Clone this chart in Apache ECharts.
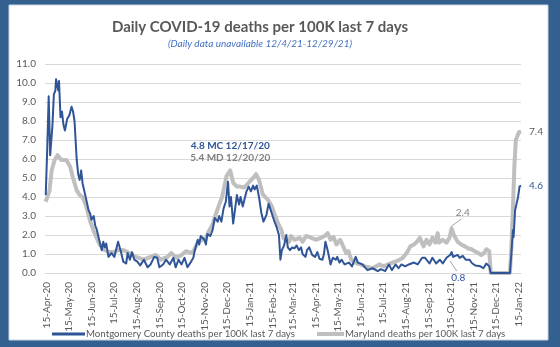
<!DOCTYPE html>
<html><head><meta charset="utf-8">
<script src="https://cdn.jsdelivr.net/npm/echarts@6/dist/echarts.min.js"></script>
<style>html,body{margin:0;padding:0;background:#34608F}#c{width:560px;height:347px}</style>
</head><body><div id="c"></div>
<script>
// ---- data ----
const startDate = '2020-04-13';
const endDate = '2022-01-18';
const monthNames = ['Jan','Feb','Mar','Apr','May','Jun','Jul','Aug','Sep','Oct','Nov','Dec'];
const xTickDates = ['2020-04-15','2020-05-15','2020-06-15','2020-07-15','2020-08-15','2020-09-15','2020-10-15','2020-11-15','2020-12-15','2021-01-15','2021-02-15','2021-03-15','2021-04-15','2021-05-15','2021-06-15','2021-07-15','2021-08-15','2021-09-15','2021-10-15','2021-11-15','2021-12-15','2022-01-15'];
const seriesNames = ['Montgomery County deaths per 100K last 7 days', 'Maryland deaths per 100K last 7 days'];

const mcDates = ['2020-04-14','2020-04-16','2020-04-18','2020-04-20','2020-04-21','2020-04-23','2020-04-25','2020-04-27','2020-04-28','2020-04-30','2020-05-01','2020-05-02','2020-05-04','2020-05-06','2020-05-08','2020-05-10','2020-05-13','2020-05-16','2020-05-19','2020-05-21','2020-05-23','2020-05-26','2020-05-28','2020-05-30','2020-06-01','2020-06-03','2020-06-08','2020-06-11','2020-06-13','2020-06-15','2020-06-18','2020-06-20','2020-06-22','2020-06-26','2020-06-29','2020-07-01','2020-07-03','2020-07-05','2020-07-08','2020-07-12','2020-07-16','2020-07-21','2020-07-25','2020-07-28','2020-08-01','2020-08-03','2020-08-06','2020-08-09','2020-08-12','2020-08-16','2020-08-20','2020-08-25','2020-08-30','2020-09-03','2020-09-08','2020-09-12','2020-09-15','2020-09-20','2020-09-24','2020-09-29','2020-10-04','2020-10-07','2020-10-11','2020-10-15','2020-10-19','2020-10-23','2020-10-28','2020-10-31','2020-11-02','2020-11-06','2020-11-08','2020-11-10','2020-11-15','2020-11-17','2020-11-19','2020-11-23','2020-11-26','2020-11-29','2020-12-03','2020-12-05','2020-12-08','2020-12-11','2020-12-14','2020-12-17','2020-12-19','2020-12-21','2020-12-24','2020-12-29','2021-01-01','2021-01-03','2021-01-06','2021-01-11','2021-01-14','2021-01-17','2021-01-20','2021-01-22','2021-01-25','2021-01-28','2021-01-31','2021-02-03','2021-02-07','2021-02-10','2021-02-12','2021-02-15','2021-02-18','2021-02-21','2021-02-24','2021-02-26','2021-02-28','2021-03-03','2021-03-06','2021-03-08','2021-03-11','2021-03-14','2021-03-17','2021-03-20','2021-03-23','2021-03-26','2021-03-28','2021-04-01','2021-04-03','2021-04-06','2021-04-10','2021-04-14','2021-04-17','2021-04-20','2021-04-24','2021-04-26','2021-04-28','2021-05-01','2021-05-05','2021-05-08','2021-05-12','2021-05-14','2021-05-17','2021-05-20','2021-05-24','2021-05-30','2021-06-03','2021-06-08','2021-06-11','2021-06-17','2021-06-24','2021-07-01','2021-07-08','2021-07-12','2021-07-18','2021-07-23','2021-07-27','2021-08-01','2021-08-05','2021-08-09','2021-08-14','2021-08-19','2021-08-26','2021-08-31','2021-09-06','2021-09-10','2021-09-12','2021-09-16','2021-09-20','2021-09-25','2021-09-30','2021-10-04','2021-10-09','2021-10-14','2021-10-16','2021-10-18','2021-10-24','2021-10-27','2021-10-31','2021-11-04','2021-11-09','2021-11-13','2021-11-17','2021-11-24','2021-11-28','2021-12-02','2021-12-06','2021-12-08','2022-01-03','2022-01-05','2022-01-07','2022-01-08','2022-01-10','2022-01-12','2022-01-14','2022-01-16','2022-01-18'];
const mcValues = [4.1,6.5,9.3,6.2,6.1,7.7,9.4,9.6,10.2,10.2,9.6,10.1,8.2,8.5,7.8,7.5,8.1,8.3,8.75,8.5,8.0,5.95,5.2,4.9,5.4,4.7,3.85,3.3,3.15,2.8,3.0,2.5,2.3,1.65,1.2,1.65,1.35,1.55,0.85,1.05,0.85,1.65,1.1,0.6,0.5,1.05,0.7,1.1,0.7,0.6,0.4,0.7,0.3,0.45,0.85,0.8,0.3,0.45,0.7,0.45,0.8,0.3,0.7,0.45,0.8,0.3,0.6,0.8,1.2,1.75,1.5,1.95,1.75,1.5,2.05,1.95,2.25,2.9,2.7,3.0,2.7,3.4,3.75,4.8,3.5,4.0,2.6,4.1,3.6,4.0,3.5,4.3,4.55,4.3,4.6,4.4,4.6,4.0,3.2,2.7,3.05,3.65,3.55,3.05,2.7,2.4,2.0,0.7,1.2,1.45,2.0,1.35,1.2,1.35,1.3,1.45,1.2,1.35,1.0,0.85,1.2,1.35,0.95,0.85,1.1,0.75,0.7,1.0,1.65,1.2,0.45,0.8,0.7,0.85,0.55,0.7,0.45,0.55,0.35,0.85,0.55,0.45,0.15,0.25,0.1,0.2,0.1,0.45,0.15,0.45,0.25,0.45,0.35,0.45,0.55,0.45,0.8,0.8,0.7,0.5,0.8,0.5,0.7,0.5,0.8,0.95,1.1,0.85,0.95,0.8,0.9,0.7,0.7,0.5,0.4,0.35,0.25,0.5,0.35,0,0,1.05,2.25,1.9,3.3,3.65,4.0,4.55,4.6];

const mdDates = ['2020-04-14','2020-04-17','2020-04-19','2020-04-22','2020-04-26','2020-04-30','2020-05-05','2020-05-12','2020-05-17','2020-05-21','2020-05-26','2020-05-30','2020-06-03','2020-06-08','2020-06-13','2020-06-18','2020-06-22','2020-06-26','2020-07-01','2020-07-08','2020-07-15','2020-07-21','2020-07-28','2020-08-03','2020-08-09','2020-08-14','2020-08-25','2020-09-03','2020-09-10','2020-09-17','2020-09-26','2020-10-01','2020-10-08','2020-10-15','2020-10-21','2020-10-28','2020-11-01','2020-11-06','2020-11-12','2020-11-17','2020-11-21','2020-11-26','2020-11-30','2020-12-05','2020-12-09','2020-12-12','2020-12-15','2020-12-20','2020-12-24','2020-12-29','2021-01-01','2021-01-08','2021-01-15','2021-01-20','2021-01-24','2021-01-28','2021-02-02','2021-02-09','2021-02-14','2021-02-18','2021-02-23','2021-02-27','2021-03-02','2021-03-06','2021-03-10','2021-03-12','2021-03-17','2021-03-24','2021-03-28','2021-04-02','2021-04-09','2021-04-15','2021-04-22','2021-04-27','2021-05-01','2021-05-05','2021-05-09','2021-05-13','2021-05-18','2021-05-22','2021-05-26','2021-05-29','2021-06-02','2021-06-07','2021-06-14','2021-06-21','2021-07-01','2021-07-10','2021-07-16','2021-07-22','2021-07-28','2021-08-04','2021-08-11','2021-08-17','2021-08-21','2021-08-26','2021-08-30','2021-09-03','2021-09-08','2021-09-12','2021-09-16','2021-09-20','2021-09-24','2021-09-27','2021-09-29','2021-10-04','2021-10-09','2021-10-13','2021-10-16','2021-10-19','2021-10-24','2021-10-29','2021-11-03','2021-11-07','2021-11-12','2021-11-16','2021-11-21','2021-11-25','2021-11-29','2021-12-02','2021-12-06','2021-12-08','2022-01-03','2022-01-05','2022-01-07','2022-01-09','2022-01-11','2022-01-15','2022-01-18'];
const mdValues = [3.75,4.1,4.3,5.4,5.95,6.2,5.95,5.95,5.6,5.0,4.35,4.1,4.0,3.5,2.75,2.2,1.85,1.5,1.25,1.1,1.1,1.2,1.2,1.1,0.95,0.85,0.7,0.85,0.95,0.7,0.85,1.05,0.8,0.95,1.15,1.05,1.2,1.6,1.75,1.85,2.2,2.55,3.05,3.6,4.0,4.55,5.1,5.4,4.75,4.55,4.55,4.5,4.8,5.0,5.2,4.9,4.15,3.85,3.55,3.1,2.6,2.3,1.85,1.7,1.65,1.95,1.75,1.85,1.65,1.95,1.85,1.75,1.85,1.95,2.1,1.75,1.9,1.5,1.75,1.4,1.05,1.15,0.7,0.55,0.45,0.35,0.25,0.45,0.35,0.45,0.55,0.65,0.8,1.1,1.4,1.5,1.65,1.85,1.4,1.75,1.5,1.85,1.6,2.1,1.6,1.75,1.6,1.85,2.35,2.0,1.65,1.5,1.4,1.3,1.25,1.15,1.05,0.95,1.05,1.25,1.15,0,0,1.4,3.3,5.6,7.0,7.4,7.45];

const yTicks = {min: 0, max: 11, interval: 1};
const endLabelTexts = ['4.6', '7.4'];
const notes = {
  mcPeak: '4.8 MC 12/17/20',
  mdPeak: '5.4 MD 12/20/20',
  mdOct: '2.4',
  mcOct: '0.8'
};
const titleText = 'Daily COVID-19 deaths per 100K last 7 days';
const subText = '(Daily data unavailable 12/4/21-12/29/21)';

// ---- helpers: x positions are day numbers counted from startDate ----
function utc(s) { const p = s.split('-').map(Number); return Date.UTC(p[0], p[1] - 1, p[2]); }
const T0 = utc(startDate);
function day(s) { return Math.round((utc(s) - T0) / 86400000); }
function fmtDay(n) {
  const d = new Date(T0 + Math.round(n) * 86400000);
  return d.getUTCDate() + '-' + monthNames[d.getUTCMonth()] + '-' + String(d.getUTCFullYear()).slice(2);
}
const pairs = (ds, vs) => ds.map((d, i) => [day(d), vs[i]]);

const FONT = 'Lato';
const BLUE = '#2F5597', GRAY = '#BFBFBF', TXT = '#595959';

const chart = echarts.init(document.getElementById('c'), null, {renderer: 'canvas'});
const option = {
  animation: false,
  backgroundColor: '#34608F',
  textStyle: {fontFamily: FONT},
  title: {
    text: titleText, subtext: subText,
    left: 255, top: 15, textAlign: 'center', itemGap: 4,
    textStyle: {fontFamily: FONT, fontSize: 15, fontWeight: 'bold', color: TXT},
    subtextStyle: {fontFamily: FONT, fontSize: 10, fontStyle: 'italic', color: '#4472C4'}
  },
  grid: {left: 45, right: 39, top: 64, bottom: 74, containLabel: false},
  legend: [
    {data: [seriesNames[0]], left: 52, top: 329, icon: 'rect', itemWidth: 33, itemHeight: 3,
     textStyle: {fontFamily: FONT, fontSize: 9.7, color: TXT, padding: [0,0,0,-4]}, padding: 0, selectedMode: false},
    {data: [seriesNames[1]], left: 317, top: 329, icon: 'rect', itemWidth: 27, itemHeight: 4,
     textStyle: {fontFamily: FONT, fontSize: 9.7, color: TXT, padding: [0,0,0,-4]}, padding: 0, selectedMode: false}
  ],
  xAxis: {
    type: 'value', min: 0, max: day(endDate),
    axisLine: {show: true, onZero: false, lineStyle: {color: '#D9D9D9', width: 1}},
    axisTick: {show: false},
    axisLabel: {show: false},
    splitLine: {show: false}
  },
  yAxis: {
    type: 'value', min: yTicks.min, max: yTicks.max, interval: yTicks.interval,
    axisLine: {show: false}, axisTick: {show: false},
    axisLabel: {fontFamily: FONT, fontSize: 10, color: TXT, margin: 9, formatter: v => v.toFixed(1)},
    splitLine: {lineStyle: {color: '#D9D9D9', width: 1}}
  },
  series: [
    {
      name: seriesNames[0], type: 'line', data: pairs(mcDates, mcValues),
      showSymbol: false, symbol: 'none', z: 4,
      lineStyle: {color: BLUE, width: 2, join: 'round'}, itemStyle: {color: BLUE},
      endLabel: {show: true, formatter: endLabelTexts[0], color: BLUE, fontFamily: FONT, fontSize: 10, distance: 8}
    },
    {
      name: seriesNames[1], type: 'line', data: pairs(mdDates, mdValues),
      showSymbol: false, symbol: 'none', z: 3,
      lineStyle: {color: GRAY, width: 4, join: 'round'}, itemStyle: {color: GRAY},
      endLabel: {show: true, formatter: endLabelTexts[1], color: TXT, fontFamily: FONT, fontSize: 10, distance: 8}
    }
  ]
};
chart.setOption(option);

// ---- x tick labels and annotations placed through the axis scales ----
function px(date, val) {
  return chart.convertToPixel({xAxisIndex: 0, yAxisIndex: 0}, [day(date), val]);
}
const xLabels = xTickDates.map(d => {
  const p = px(d, 0);
  return {type: 'text', x: p[0], y: p[1] + 9, rotation: Math.PI / 2, z: 40, silent: true,
    style: {text: fmtDay(day(d)), fill: TXT, font: '10px ' + FONT, textAlign: 'right', textVerticalAlign: 'middle'}};
});
const a1 = px('2020-12-20', 6.7), a2 = px('2020-12-20', 6.05);
const a3 = px('2021-10-31', 3.15), l3a = px('2021-10-15', 2.44), l3b = px('2021-10-29', 2.84);
const a4 = px('2021-10-25', -0.26), l4a = px('2021-10-14', 0.63), l4b = px('2021-10-23', 0.1);
const txt = (p, s, color) => ({type: 'text', x: p[0], y: p[1], z: 50,
  style: {text: s, fill: color, font: 'bold 10px ' + FONT, textAlign: 'center', textVerticalAlign: 'middle'}});
chart.setOption({
  graphic: [
    {type: 'rect', shape: {x: 9, y: 5, width: 539, height: 335}, style: {fill: '#FFFFFF', stroke: '#C9D3E0', lineWidth: 1}, z: -10, silent: true},
    ...xLabels,
    txt(a1, notes.mcPeak, BLUE),
    txt(a2, notes.mdPeak, '#7F7F7F'),
    {type: 'text', x: a3[0], y: a3[1], z: 50, style: {text: notes.mdOct, fill: '#7F7F7F', font: '10px ' + FONT, textAlign: 'center', textVerticalAlign: 'middle'}},
    {type: 'line', z: 50, shape: {x1: l3a[0], y1: l3a[1], x2: l3b[0], y2: l3b[1]}, style: {stroke: '#A6A6A6', lineWidth: 1}},
    {type: 'text', x: a4[0], y: a4[1], z: 50, style: {text: notes.mcOct, fill: BLUE, font: '10px ' + FONT, textAlign: 'center', textVerticalAlign: 'middle'}},
    {type: 'line', z: 50, shape: {x1: l4a[0], y1: l4a[1], x2: l4b[0], y2: l4b[1]}, style: {stroke: '#A6A6A6', lineWidth: 1}}
  ]
});
</script>
</body></html>
